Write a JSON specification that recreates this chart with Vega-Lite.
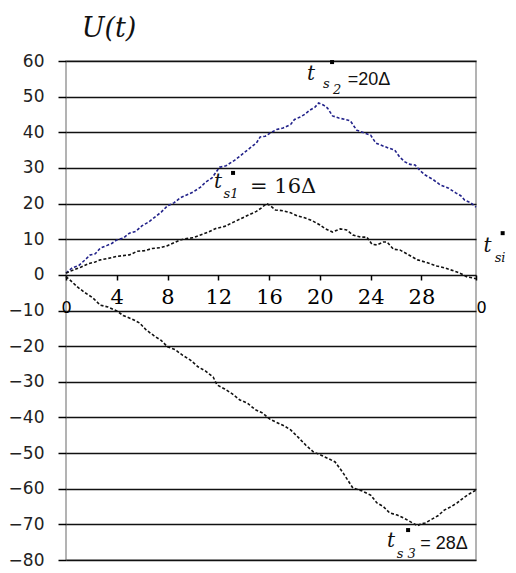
{
  "$schema": "https://vega.github.io/schema/vega-lite/v6.json",
  "width": 410,
  "height": 499,
  "autosize": "none",
  "padding": {"left": 66, "top": 61, "right": 40, "bottom": 13},
  "background": "white",
  "view": {"stroke": "#9a9a9a", "strokeWidth": 1.5},
  "config": {
    "axisY": {"labelOverlap": false, "tickCount": 15},
    "axisX": {"labelOverlap": false}
  },
  "datasets": {
    "curves": [
      {"series":"A","t":0,"U":0.5},{"series":"A","t":0.5,"U":2},{"series":"A","t":1,"U":2.6},{"series":"A","t":1.5,"U":4.2},{"series":"A","t":1.9,"U":5.6},{"series":"A","t":2.3,"U":5.9},{"series":"A","t":2.7,"U":7.5},{"series":"A","t":3.2,"U":8.2},{"series":"A","t":3.6,"U":8.8},{"series":"A","t":4.0,"U":9.8},{"series":"A","t":4.5,"U":10.3},{"series":"A","t":5.0,"U":11.7},{"series":"A","t":5.5,"U":12.2},{"series":"A","t":6.0,"U":13.8},{"series":"A","t":6.5,"U":14.8},{"series":"A","t":7.0,"U":16.2},{"series":"A","t":7.5,"U":17.6},{"series":"A","t":8.0,"U":19.4},{"series":"A","t":8.5,"U":20.2},{"series":"A","t":9.0,"U":21.6},{"series":"A","t":9.5,"U":22.4},{"series":"A","t":10.0,"U":23.2},{"series":"A","t":10.6,"U":24.6},{"series":"A","t":11.0,"U":26.0},{"series":"A","t":11.5,"U":27.2},{"series":"A","t":12.1,"U":30.2},{"series":"A","t":12.6,"U":30.6},{"series":"A","t":13.3,"U":32.2},{"series":"A","t":13.8,"U":33.6},{"series":"A","t":14.5,"U":35.6},{"series":"A","t":15.0,"U":37.0},{"series":"A","t":15.3,"U":38.7},{"series":"A","t":15.7,"U":38.9},{"series":"A","t":16.1,"U":39.8},{"series":"A","t":16.6,"U":40.8},{"series":"A","t":17.1,"U":41.2},{"series":"A","t":17.7,"U":42.2},{"series":"A","t":18.0,"U":43.6},{"series":"A","t":18.4,"U":44.2},{"series":"A","t":18.8,"U":45.0},{"series":"A","t":19.2,"U":46.2},{"series":"A","t":19.6,"U":47.0},{"series":"A","t":19.9,"U":48.2},{"series":"A","t":20.3,"U":47.6},{"series":"A","t":20.6,"U":46.8},{"series":"A","t":21.0,"U":44.6},{"series":"A","t":21.5,"U":44.0},{"series":"A","t":22.0,"U":43.6},{"series":"A","t":22.4,"U":43.2},{"series":"A","t":22.9,"U":40.6},{"series":"A","t":23.5,"U":39.8},{"series":"A","t":24.0,"U":39.2},{"series":"A","t":24.4,"U":37.0},{"series":"A","t":24.8,"U":36.4},{"series":"A","t":25.4,"U":35.6},{"series":"A","t":25.9,"U":35.0},{"series":"A","t":26.3,"U":33.0},{"series":"A","t":26.7,"U":31.7},{"series":"A","t":27.1,"U":31.0},{"series":"A","t":27.5,"U":30.8},{"series":"A","t":27.9,"U":29.2},{"series":"A","t":28.3,"U":28.0},{"series":"A","t":28.9,"U":26.8},{"series":"A","t":29.5,"U":25.2},{"series":"A","t":30.1,"U":24.4},{"series":"A","t":30.7,"U":23.0},{"series":"A","t":31.1,"U":22.2},{"series":"A","t":31.4,"U":21.0},{"series":"A","t":31.9,"U":20.2},{"series":"A","t":32.3,"U":19.0},
      {"series":"B","t":0,"U":0.5},{"series":"B","t":0.6,"U":1.4},{"series":"B","t":1.2,"U":2.2},{"series":"B","t":1.8,"U":3.2},{"series":"B","t":2.3,"U":3.6},{"series":"B","t":2.7,"U":4.2},{"series":"B","t":3.3,"U":4.6},{"series":"B","t":4.0,"U":5.2},{"series":"B","t":4.5,"U":5.4},{"series":"B","t":5.0,"U":5.6},{"series":"B","t":5.6,"U":6.6},{"series":"B","t":6.2,"U":6.8},{"series":"B","t":6.8,"U":7.4},{"series":"B","t":7.4,"U":7.6},{"series":"B","t":8.0,"U":8.2},{"series":"B","t":8.5,"U":9.0},{"series":"B","t":9.0,"U":9.8},{"series":"B","t":9.5,"U":10.2},{"series":"B","t":10.0,"U":10.4},{"series":"B","t":10.6,"U":11.2},{"series":"B","t":11.2,"U":12.0},{"series":"B","t":11.8,"U":13.0},{"series":"B","t":12.5,"U":13.6},{"series":"B","t":13.2,"U":14.8},{"series":"B","t":13.8,"U":15.8},{"series":"B","t":14.5,"U":17.0},{"series":"B","t":15.0,"U":17.8},{"series":"B","t":15.4,"U":18.8},{"series":"B","t":15.8,"U":20.0},{"series":"B","t":16.1,"U":19.4},{"series":"B","t":16.5,"U":18.2},{"series":"B","t":17.1,"U":18.0},{"series":"B","t":17.7,"U":17.4},{"series":"B","t":18.2,"U":16.6},{"series":"B","t":18.8,"U":16.0},{"series":"B","t":19.4,"U":15.2},{"series":"B","t":20.0,"U":14.0},{"series":"B","t":20.4,"U":13.0},{"series":"B","t":21.0,"U":12.0},{"series":"B","t":21.6,"U":12.9},{"series":"B","t":22.1,"U":12.6},{"series":"B","t":22.6,"U":11.2},{"series":"B","t":23.2,"U":10.6},{"series":"B","t":23.7,"U":10.6},{"series":"B","t":24.1,"U":8.6},{"series":"B","t":24.5,"U":8.4},{"series":"B","t":25.0,"U":9.2},{"series":"B","t":25.3,"U":9.2},{"series":"B","t":25.8,"U":7.2},{"series":"B","t":26.3,"U":7.0},{"series":"B","t":26.8,"U":6.0},{"series":"B","t":27.3,"U":5.0},{"series":"B","t":27.7,"U":4.2},{"series":"B","t":28.3,"U":3.6},{"series":"B","t":28.8,"U":3.0},{"series":"B","t":29.2,"U":2.5},{"series":"B","t":29.8,"U":2.0},{"series":"B","t":30.3,"U":1.4},{"series":"B","t":30.8,"U":0.8},{"series":"B","t":31.2,"U":0.2},{"series":"B","t":31.6,"U":-0.6},{"series":"B","t":32.0,"U":-0.8},{"series":"B","t":32.3,"U":-1.1},
      {"series":"C","t":0,"U":-0.5},{"series":"C","t":0.3,"U":-1.4},{"series":"C","t":0.9,"U":-3.4},{"series":"C","t":1.5,"U":-5.0},{"series":"C","t":2.1,"U":-6.4},{"series":"C","t":2.7,"U":-8.5},{"series":"C","t":3.3,"U":-9.0},{"series":"C","t":4.0,"U":-10.1},{"series":"C","t":4.5,"U":-11.4},{"series":"C","t":5.2,"U":-12.4},{"series":"C","t":5.8,"U":-13.5},{"series":"C","t":6.3,"U":-15.4},{"series":"C","t":6.9,"U":-17.0},{"series":"C","t":7.5,"U":-18.4},{"series":"C","t":8.0,"U":-20.2},{"series":"C","t":8.6,"U":-21.0},{"series":"C","t":9.2,"U":-22.6},{"series":"C","t":9.8,"U":-23.9},{"series":"C","t":10.4,"U":-25.8},{"series":"C","t":11.0,"U":-27.0},{"series":"C","t":11.6,"U":-28.7},{"series":"C","t":11.9,"U":-30.9},{"series":"C","t":12.5,"U":-32.0},{"series":"C","t":13.1,"U":-33.4},{"series":"C","t":13.7,"U":-35.1},{"series":"C","t":14.3,"U":-36.0},{"series":"C","t":14.9,"U":-37.8},{"series":"C","t":15.5,"U":-38.8},{"series":"C","t":16.1,"U":-40.6},{"series":"C","t":16.6,"U":-41.4},{"series":"C","t":17.2,"U":-42.4},{"series":"C","t":17.7,"U":-43.5},{"series":"C","t":18.3,"U":-45.6},{"series":"C","t":18.9,"U":-47.8},{"series":"C","t":19.5,"U":-49.7},{"series":"C","t":20.1,"U":-50.6},{"series":"C","t":20.7,"U":-51.6},{"series":"C","t":21.2,"U":-52.5},{"series":"C","t":21.8,"U":-55.4},{"series":"C","t":22.2,"U":-57.6},{"series":"C","t":22.6,"U":-59.8},{"series":"C","t":23.3,"U":-60.6},{"series":"C","t":24.0,"U":-61.8},{"series":"C","t":24.5,"U":-64.0},{"series":"C","t":25.0,"U":-65.0},{"series":"C","t":25.5,"U":-66.8},{"series":"C","t":26.1,"U":-67.4},{"series":"C","t":26.7,"U":-68.4},{"series":"C","t":27.3,"U":-69.6},{"series":"C","t":27.7,"U":-70.4},{"series":"C","t":28.0,"U":-69.8},{"series":"C","t":28.3,"U":-69.6},{"series":"C","t":28.8,"U":-68.6},{"series":"C","t":29.3,"U":-67.6},{"series":"C","t":29.8,"U":-66.0},{"series":"C","t":30.3,"U":-65.1},{"series":"C","t":30.8,"U":-64.0},{"series":"C","t":31.3,"U":-62.6},{"series":"C","t":31.8,"U":-61.4},{"series":"C","t":32.3,"U":-60.4}
    ],
    "texts": [
      {"style":"title","t":3.39,"U":66.7,"text":"U(t)"},
      {"style":"tvar","t":33.2,"U":6.4,"text":"t"},
      {"style":"tvar","t":11.98,"U":24.4,"text":"t"},
      {"style":"tvar","t":19.3,"U":54.7,"text":"t"},
      {"style":"tvar","t":25.6,"U":-76.4,"text":"t"},
      {"style":"sub","t":34.2,"U":3.6,"text":"si"},
      {"style":"sub","t":13.0,"U":21.6,"text":"s1"},
      {"style":"sub","t":20.5,"U":52.4,"text":"s"},
      {"style":"sub","t":21.36,"U":50.7,"text":"2"},
      {"style":"sub","t":26.8,"U":-79.3,"text":"s 3"},
      {"style":"serifeq","t":14.5,"U":23.0,"text":"= 16Δ"},
      {"style":"sanseq","t":22.2,"U":53.3,"text":"=20Δ"},
      {"style":"sanseq","t":27.9,"U":-76.9,"text":"= 28Δ"}
    ],
    "stars": [
      {"t":13.16,"U":28.6},{"t":20.96,"U":59.7},{"t":26.95,"U":-71.6},{"t":34.4,"U":11.7}
    ]
  },
  "layer": [
    {
      "data": {"name": "curves"},
      "mark": {"type": "line", "strokeWidth": 1.6, "strokeDash": [3, 2], "clip": false},
      "encoding": {
        "x": {
          "field": "t", "type": "quantitative",
          "scale": {"domain": [0, 32.3], "nice": false, "zero": false},
          "axis": {
            "values": [0, 4, 8, 12, 16, 20, 24, 28, 32.3],
            "labelExpr": "datum.value == 0 || datum.value > 30 ? '0' : datum.label",
            "offset": -285,
            "domain": false,
            "grid": false,
            "title": null,
            "tickSize": 5,
            "tickWidth": 1.5,
            "tickColor": "black",
            "labelColor": "black",
            "labelFont": {"condition": {"test": "datum.value == 0 || datum.value > 30", "value": "DejaVu Sans"}, "value": "DejaVu Serif"},
            "labelFontSize": {"condition": {"test": "datum.value == 0 || datum.value > 30", "value": 16}, "value": 21},
            "labelAlign": {"condition": {"test": "datum.value > 30", "value": "left"}, "value": "center"},
            "labelPadding": {"condition": {"test": "datum.value == 0 || datum.value > 30", "value": 27}, "value": 17},
            "labelBaseline": "middle",
            "labelFlush": false,
            "labelOverlap": false
          }
        },
        "y": {
          "field": "U", "type": "quantitative",
          "scale": {"domain": [-80, 60], "nice": false, "zero": false},
          "axis": {
            "values": [-80, -70, -60, -50, -40, -30, -20, -10, 0, 10, 20, 30, 40, 50, 60],
            "grid": true,
            "gridColor": "#111111",
            "gridWidth": 1.4,
            "domain": false,
            "title": null,
            "ticks": true,
            "tickSize": 8,
            "tickWidth": 1.5,
            "tickColor": "black",
            "labelFont": "DejaVu Sans",
            "labelFontSize": 17,
            "labelColor": "#222222",
            "labelPadding": 14,
            "labelOverlap": false
          }
        },
        "detail": {"field": "series"},
        "color": {
          "field": "series", "type": "nominal",
          "scale": {"domain": ["A", "B", "C"], "range": ["#22228a", "#111111", "#111111"]},
          "legend": null
        }
      }
    },
    {
      "mark": {"type": "rule", "color": "#9a9a9a", "strokeWidth": 1.6},
      "encoding": {
        "x": {"datum": 0, "type": "quantitative"},
        "x2": {"datum": 32.3},
        "y": {"datum": 60, "type": "quantitative"}
      }
    },
    {
      "mark": {"type": "rule", "color": "#9a9a9a", "strokeWidth": 1.6},
      "encoding": {
        "x": {"datum": 0, "type": "quantitative"},
        "x2": {"datum": 32.3},
        "y": {"datum": -80, "type": "quantitative"}
      }
    },
    {
      "mark": {"type": "rule", "color": "black", "strokeWidth": 3},
      "encoding": {
        "x": {"datum": 0, "type": "quantitative"},
        "y": {"datum": -82.3, "type": "quantitative"},
        "y2": {"datum": 66.7}
      }
    },
    {
      "mark": {"type": "rule", "color": "black", "strokeWidth": 3},
      "encoding": {
        "x": {"datum": -0.85, "type": "quantitative"},
        "x2": {"datum": 34},
        "y": {"datum": 0, "type": "quantitative"}
      }
    },
    {
      "mark": {"type": "point", "shape": "M0,-1L-0.33,1L0.33,1Z", "filled": true, "color": "black", "opacity": 1, "size": 289, "clip": false},
      "encoding": {
        "x": {"datum": 0, "type": "quantitative"},
        "y": {"datum": 69.1, "type": "quantitative"}
      }
    },
    {
      "mark": {"type": "point", "shape": "M1,0L-1,-0.37L-1,0.37Z", "filled": true, "color": "black", "opacity": 1, "size": 324, "clip": false},
      "encoding": {
        "x": {"datum": 34.67, "type": "quantitative"},
        "y": {"datum": 0, "type": "quantitative"}
      }
    },
    {
      "mark": {"type": "rule", "color": "black", "strokeWidth": 2.5},
      "encoding": {
        "x": {"datum": 18.7, "type": "quantitative"},
        "x2": {"datum": 26.95},
        "y": {"datum": 60, "type": "quantitative"}
      }
    },
    {
      "mark": {"type": "rule", "color": "black", "strokeWidth": 2.5},
      "encoding": {
        "x": {"datum": 24.6, "type": "quantitative"},
        "x2": {"datum": 32.3},
        "y": {"datum": -80, "type": "quantitative"}
      }
    },
    {
      "mark": {"type": "rule", "color": "black", "strokeWidth": 1.5, "strokeDash": [12, 14]},
      "encoding": {
        "x": {"datum": 15.84, "type": "quantitative"},
        "y": {"datum": 20, "type": "quantitative"},
        "y2": {"datum": 0}
      }
    },
    {
      "mark": {"type": "rule", "color": "black", "strokeWidth": 1.5, "strokeDash": [10, 12]},
      "encoding": {
        "x": {"datum": 20, "type": "quantitative"},
        "y": {"datum": 48.2, "type": "quantitative"},
        "y2": {"datum": 32}
      }
    },
    {
      "mark": {"type": "rule", "color": "black", "strokeWidth": 1.5},
      "encoding": {
        "x": {"datum": 20, "type": "quantitative"},
        "y": {"datum": 32, "type": "quantitative"},
        "y2": {"datum": 0}
      }
    },
    {
      "mark": {"type": "rule", "color": "black", "strokeWidth": 1.5, "strokeDash": [13, 19]},
      "encoding": {
        "x": {"datum": 27.9, "type": "quantitative"},
        "y": {"datum": -10, "type": "quantitative"},
        "y2": {"datum": -70}
      }
    },
    {
      "data": {"name": "stars"},
      "mark": {"type": "square", "color": "black", "size": 16, "opacity": 1, "clip": false},
      "encoding": {
        "x": {"field": "t", "type": "quantitative"},
        "y": {"field": "U", "type": "quantitative"}
      }
    },
    {
      "data": {"name": "texts"},
      "transform": [{"filter": "datum.style == 'title'"}],
      "mark": {"type": "text", "font": "DejaVu Serif", "fontStyle": "italic", "fontSize": 27, "align": "center", "baseline": "alphabetic", "color": "#111111"},
      "encoding": {
        "x": {"field": "t", "type": "quantitative"},
        "y": {"field": "U", "type": "quantitative"},
        "text": {"field": "text"}
      }
    },
    {
      "data": {"name": "texts"},
      "transform": [{"filter": "datum.style == 'tvar'"}],
      "mark": {"type": "text", "font": "DejaVu Serif", "fontStyle": "italic", "fontSize": 20, "align": "center", "baseline": "alphabetic", "color": "#111111"},
      "encoding": {
        "x": {"field": "t", "type": "quantitative"},
        "y": {"field": "U", "type": "quantitative"},
        "text": {"field": "text"}
      }
    },
    {
      "data": {"name": "texts"},
      "transform": [{"filter": "datum.style == 'sub'"}],
      "mark": {"type": "text", "font": "DejaVu Serif", "fontStyle": "italic", "fontSize": 13, "align": "center", "baseline": "alphabetic", "color": "#111111"},
      "encoding": {
        "x": {"field": "t", "type": "quantitative"},
        "y": {"field": "U", "type": "quantitative"},
        "text": {"field": "text"}
      }
    },
    {
      "data": {"name": "texts"},
      "transform": [{"filter": "datum.style == 'serifeq'"}],
      "mark": {"type": "text", "font": "DejaVu Serif", "fontSize": 21, "align": "left", "baseline": "alphabetic", "color": "#111111"},
      "encoding": {
        "x": {"field": "t", "type": "quantitative"},
        "y": {"field": "U", "type": "quantitative"},
        "text": {"field": "text"}
      }
    },
    {
      "data": {"name": "texts"},
      "transform": [{"filter": "datum.style == 'sanseq'"}],
      "mark": {"type": "text", "font": "Liberation Sans", "fontSize": 18, "align": "left", "baseline": "alphabetic", "color": "#111111"},
      "encoding": {
        "x": {"field": "t", "type": "quantitative"},
        "y": {"field": "U", "type": "quantitative"},
        "text": {"field": "text"}
      }
    }
  ]
}
